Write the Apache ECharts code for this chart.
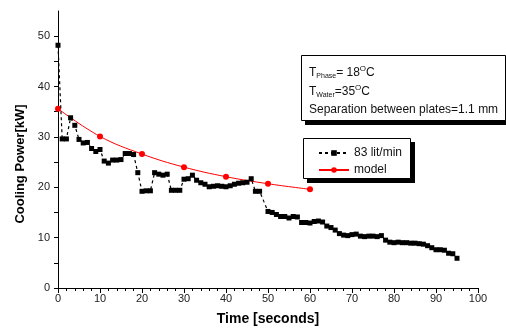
<!DOCTYPE html>
<html>
    <head>
        <meta charset="utf-8" />
        <title>Cooling Power vs Time</title>
        <script src="https://cdn.jsdelivr.net/npm/echarts@6.0.0/dist/echarts.min.js"></script>
        <style>
            html, body { margin: 0; padding: 0; background: #fff; }
        </style>
    </head>
    <body>
        <div id="grafico" style="width: 506px; height: 331px"></div>
        <script>
            // measured series, 83 lit/min
            const tempos = [0, 1, 2, 3, 4, 5, 6, 7, 8, 9, 10, 11, 12, 13, 14, 15, 16, 17, 18, 19,
                20, 21, 22, 23, 24, 25, 26, 27, 28, 29, 30, 31, 32, 33, 34, 35, 36, 37, 38, 39,
                40, 41, 42, 43, 44, 45, 46, 47, 48, 50, 51, 52, 53, 54, 55, 56, 57, 58, 59,
                60, 61, 62, 63, 64, 65, 66, 67, 68, 69, 70, 71, 72, 73, 74, 75, 76, 77, 78, 79,
                80, 81, 82, 83, 84, 85, 86, 87, 88, 89, 90, 91, 92, 93, 94, 95];
            const potencia = [48.2, 29.6, 29.6, 33.8, 32.3, 29.5, 28.8, 28.9, 27.7, 27.1, 27.5, 25.2, 24.8, 25.4, 25.4, 25.5, 26.7, 26.7, 26.5, 22.9,
                19.2, 19.3, 19.3, 22.9, 22.6, 22.4, 22.6, 19.4, 19.4, 19.4, 21.6, 21.7, 22.4, 21.4, 20.9, 20.6, 20.1, 20.2, 20.3, 20.2,
                20.1, 20.3, 20.6, 20.8, 20.9, 21.0, 21.7, 19.2, 19.2, 15.2, 15.0, 14.6, 14.2, 14.2, 13.9, 14.2, 14.1, 13.0, 13.0,
                12.9, 13.2, 13.3, 13.1, 12.3, 12.0, 11.5, 10.8, 10.5, 10.4, 10.6, 10.7, 10.3, 10.2, 10.3, 10.3, 10.2, 10.4, 9.5, 9.1,
                9.0, 9.1, 9.0, 9.0, 8.9, 8.9, 8.8, 8.7, 8.4, 8.0, 7.6, 7.6, 7.5, 6.9, 6.8, 5.9];

            // model
            const temposModelo = [0, 10, 20, 30, 40, 50, 60];
            const potenciaModelo = [35.6, 30.1, 26.6, 24.0, 22.1, 20.7, 19.6];

            const eixoY = [0, 10, 20, 30, 40, 50];

            const fonte = "Liberation Sans";

            const chart = echarts.init(document.getElementById("grafico"));

            const option = {
                backgroundColor: "#fff",
                animation: false,
                textStyle: { fontFamily: fonte },
                grid: { left: 58, right: 28, top: 11, bottom: 41 },
                legend: {
                    orient: "vertical",
                    left: 313,
                    top: 142,
                    itemWidth: 30,
                    itemHeight: 7,
                    itemGap: 5,
                    textStyle: { fontFamily: fonte, fontSize: 12, color: "#111" },
                    data: ["83 lit/min", "model"],
                },
                xAxis: {
                    type: "value",
                    min: 0,
                    max: 100,
                    interval: 10,
                    name: "Time [seconds]",
                    nameLocation: "middle",
                    nameGap: 24,
                    nameTextStyle: { fontFamily: fonte, fontSize: 14, fontWeight: "bold", color: "#000" },
                    axisLine: { lineStyle: { color: "#000", width: 1 } },
                    axisTick: { inside: false, length: 5, lineStyle: { color: "#000" } },
                    minorTick: { show: true, splitNumber: 5, length: 3, lineStyle: { color: "#000" } },
                    axisLabel: { fontSize: 11, color: "#222", margin: 5 },
                    splitLine: { show: false },
                },
                yAxis: {
                    type: "value",
                    min: 0,
                    max: 55,
                    interval: 10,
                    axisLine: { show: true, lineStyle: { color: "#000", width: 1 } },
                    axisTick: { show: true, length: 4, customValues: eixoY, lineStyle: { color: "#000" } },
                    minorTick: { show: true, splitNumber: 2, length: 4, lineStyle: { color: "#000" } },
                    axisLabel: { fontSize: 11, color: "#222", margin: 8, customValues: eixoY },
                    splitLine: { show: false },
                },
                graphic: [
                    { type: "rect", shape: { x: 305, y: 59, width: 204, height: 66 }, style: { fill: "#000" }, z: 10 },
                    { type: "rect", shape: { x: 301.5, y: 55.5, width: 204, height: 65 }, style: { fill: "#fff", stroke: "#000", lineWidth: 1 }, z: 11 },
                    {
                        type: "text", x: 309, y: 65, z: 12,
                        style: {
                            text: "{t|T}{sub|Phase}{t|= 18}{sup|O}{t|C}",
                            rich: {
                                t: { fontFamily: fonte, fontSize: 12, fill: "#111", lineHeight: 15 },
                                sub: { fontFamily: fonte, fontSize: 7, fill: "#111", verticalAlign: "bottom", lineHeight: 15 },
                                sup: { fontFamily: fonte, fontSize: 8, fill: "#111", verticalAlign: "top", lineHeight: 15 },
                            },
                        },
                    },
                    {
                        type: "text", x: 309, y: 84, z: 12,
                        style: {
                            text: "{t|T}{sub|Water}{t|=35}{sup|O}{t|C}",
                            rich: {
                                t: { fontFamily: fonte, fontSize: 12, fill: "#111", lineHeight: 15 },
                                sub: { fontFamily: fonte, fontSize: 7, fill: "#111", verticalAlign: "bottom", lineHeight: 15 },
                                sup: { fontFamily: fonte, fontSize: 8, fill: "#111", verticalAlign: "top", lineHeight: 15 },
                            },
                        },
                    },
                    {
                        type: "text", x: 309, y: 104, z: 12,
                        style: { text: "Separation between plates=1.1 mm", font: "12px " + fonte, fill: "#111" },
                    },
                    { type: "rect", shape: { x: 307, y: 142, width: 108, height: 41 }, style: { fill: "#000" }, z: -2 },
                    { type: "rect", shape: { x: 303.5, y: 138.5, width: 107, height: 40 }, style: { fill: "#fff", stroke: "#000", lineWidth: 1 }, z: -1 },
                    {
                        type: "text", x: 20, y: 164, rotation: Math.PI / 2, z: 12,
                        style: {
                            text: "Cooling Power[kW]",
                            font: "bold 13px " + fonte,
                            fill: "#000",
                            align: "center",
                            verticalAlign: "middle",
                        },
                    },
                ],
                series: [
                    {
                        name: "model",
                        type: "line",
                        data: temposModelo.map((t, i) => [t, potenciaModelo[i]]),
                        smooth: 0.4,
                        symbol: "circle",
                        symbolSize: 6,
                        itemStyle: { color: "#ff0000" },
                        lineStyle: { color: "#ff0000", width: 1 },
                        z: 3,
                    },
                    {
                        name: "83 lit/min",
                        type: "line",
                        data: tempos.map((t, i) => [t, potencia[i]]),
                        symbol: "rect",
                        symbolSize: 5,
                        itemStyle: { color: "#000" },
                        lineStyle: { color: "#000", width: 1.2, type: [3, 3] },
                        z: 4,
                    },
                ],
            };

            chart.setOption(option);
        </script>
    </body>
</html>
